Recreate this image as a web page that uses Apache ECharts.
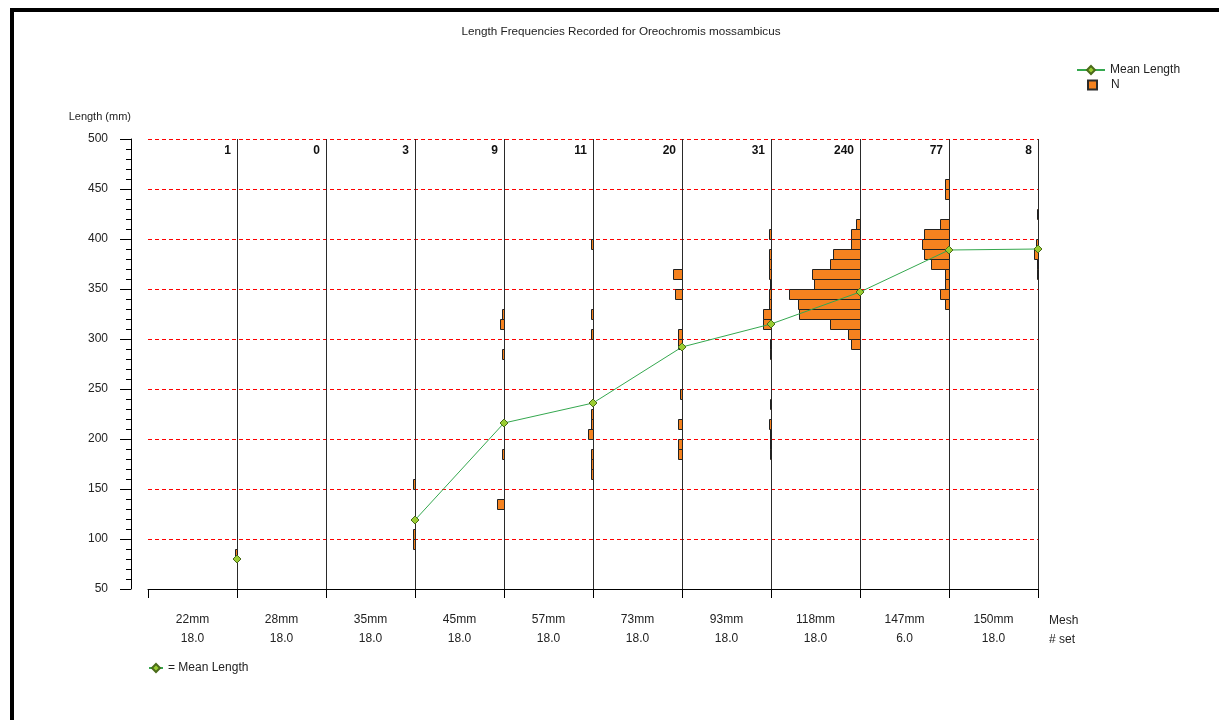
<!DOCTYPE html>
<html>
<head>
<meta charset="utf-8">
<script src="https://cdn.jsdelivr.net/npm/echarts@6/dist/echarts.min.js"></script>
<style>
html,body{margin:0;padding:0;background:#fff;}
#chart{width:1219px;height:720px;}
</style>
</head>
<body>
<div id="chart"></div>
<script>
// ---- data ----
const meshSizes = ['22mm','28mm','35mm','45mm','57mm','73mm','93mm','118mm','147mm','150mm'];
const setCounts = ['18.0','18.0','18.0','18.0','18.0','18.0','18.0','18.0','6.0','18.0'];
const totalN = [1, 0, 3, 9, 11, 20, 31, 240, 77, 8];
const meanLength = [80, '-', 119, 216, 236, 292, 315, 347, 389, 390];
const yTicks = [50, 100, 150, 200, 250, 300, 350, 400, 450, 500];

// length-class frequencies per mesh: [bin start (mm), number of fish]
const freq22mm = [[80, 1]];
const freq28mm = [];
const freq35mm = [[150, 1], [100, 1], [90, 1]];
const freq45mm = [[320, 1], [310, 2], [280, 1], [180, 1], [130, 4]];
const freq57mm = [[390, 1], [320, 1], [300, 1], [220, 1], [210, 1], [200, 3], [180, 1], [170, 1], [160, 1]];
const freq73mm = [[360, 5], [340, 4], [300, 2], [290, 2], [240, 1], [210, 2], [190, 2], [180, 2]];
const freq93mm = [[400, 1], [380, 1], [370, 1], [360, 1], [350, 0.3], [340, 1], [330, 1], [320, 4.3], [310, 4.3],
                  [290, 0.3], [280, 0.3], [230, 0.3], [210, 1], [200, 0.3], [190, 0.3], [180, 0.3]];
const freq118mm = [[410, 2], [400, 5], [390, 5], [380, 15], [370, 17], [360, 27], [350, 26], [340, 40],
                   [330, 35], [320, 34], [310, 17], [300, 7], [290, 5]];
const freq147mm = [[450, 2], [440, 2], [410, 5], [400, 14], [390, 15], [380, 14], [370, 10], [360, 2], [350, 2], [340, 5], [330, 2]];
const freq150mm = [[420, 0.3], [390, 1], [380, 2.4], [370, 0.3], [360, 0.3]];

const freqs = [freq22mm, freq28mm, freq35mm, freq45mm, freq57mm, freq73mm, freq93mm, freq118mm, freq147mm, freq150mm];
const BIN = 10;          // class width, mm
const COL = 50;          // fish per mesh column on the x scale
const X_MAX = COL * meshSizes.length;

// ---- build series data ----
const barData = [];
freqs.forEach((arr, c) => arr.forEach(([b, n]) => barData.push([c, b, n])));
const meanData = meanLength.map((m, i) => [(i + 1) * COL, m]);
const countData = totalN.map((n, i) => [i, n]);
const catLabels = meshSizes.map((m, i) => m + '\n' + setCounts[i]);

const FONT = "'Liberation Sans', Arial, sans-serif";
const chart = echarts.init(document.getElementById('chart'), null, {renderer: 'canvas'});

const vColors = ['rgba(0,0,0,0)'];
for (let i = 0; i < meshSizes.length; i++) vColors.push('#2a2a2a');

chart.setOption({
  animation: false,
  backgroundColor: '#fff',
  textStyle: {fontFamily: FONT},
  graphic: [
    {type: 'rect', shape: {x: 10, y: 8, width: 1209, height: 4}, style: {fill: '#000'}},
    {type: 'rect', shape: {x: 10, y: 8, width: 4, height: 712}, style: {fill: '#000'}},
    {type: 'text', x: 621, y: 32, style: {text: 'Length Frequencies Recorded for Oreochromis mossambicus',
      font: '11.7px ' + FONT, fill: '#222', textAlign: 'center', textVerticalAlign: 'middle'}}
  ],
  legend: [
    {data: [{name: 'Mean Length'}], left: 1076, top: 64, padding: 0, orient: 'vertical', itemWidth: 28, itemHeight: 10,
     selectedMode: false, textStyle: {fontSize: 12, color: '#222', fontFamily: FONT}},
    {data: [{name: 'N', icon: 'rect'}], left: 1087, top: 79, padding: 0, orient: 'vertical', itemWidth: 9, itemHeight: 9,
     selectedMode: false, textStyle: {fontSize: 12, color: '#222', fontFamily: FONT, padding: [0, 0, 0, 9]}},
    {data: [{name: 'Mean Length'}], left: 148, top: 662, padding: 0, itemWidth: 14, itemHeight: 10,
     selectedMode: false, formatter: '= Mean Length', textStyle: {fontSize: 12, color: '#222', fontFamily: FONT}}
  ],
  grid: {left: 148, right: 181, top: 139, bottom: 131, containLabel: false},
  xAxis: [
    {type: 'value', min: 0, max: X_MAX, interval: COL, position: 'bottom',
     axisLine: {show: true, onZero: false, lineStyle: {color: '#000', width: 1}},
     axisTick: {show: true, length: 9, lineStyle: {color: '#000'}},
     axisLabel: {show: false},
     splitLine: {show: true, lineStyle: {color: vColors, width: 1}}},
    {type: 'category', data: catLabels, position: 'bottom', gridIndex: 0,
     axisLine: {show: false, onZero: false}, axisTick: {show: false}, splitLine: {show: false},
     axisLabel: {margin: 21, lineHeight: 19, fontSize: 12, color: '#222', fontFamily: FONT},
     name: 'Mesh\n# set', nameLocation: 'end', nameGap: 11,
     nameTextStyle: {align: 'left', verticalAlign: 'top', lineHeight: 19, fontSize: 12, color: '#222',
                     fontFamily: FONT, padding: [22, 0, 0, 0]}}
  ],
  yAxis: {
    type: 'value', min: 50, max: 500, interval: 50, offset: 17, position: 'left',
    name: 'Length (mm)', nameLocation: 'end', nameGap: 17,
    nameTextStyle: {align: 'right', fontSize: 11, color: '#222', fontFamily: FONT},
    axisLine: {show: true, onZero: false, lineStyle: {color: '#000', width: 1}},
    axisTick: {show: true, length: 11, lineStyle: {color: '#000'}},
    minorTick: {show: true, splitNumber: 5, length: 5, lineStyle: {color: '#000'}},
    axisLabel: {margin: 23, fontSize: 12, color: '#222', fontFamily: FONT,
                formatter: v => (yTicks.indexOf(v) >= 0 ? String(v) : '')},
    splitLine: {show: true, lineStyle: {color: '#ff0000', type: [4, 3], width: 1}}
  },
  series: [
    {
      name: 'N', type: 'custom', xAxisIndex: 0, yAxisIndex: 0,
      itemStyle: {color: '#f5821f', borderColor: '#2b2b2b', borderWidth: 1},
      encode: {x: 2, y: 1},
      data: barData,
      renderItem: function (params, api) {
        const c = api.value(0), b = api.value(1), n = api.value(2);
        const right = (c + 1) * COL;
        const p1 = api.coord([right - n, b + BIN]);
        const p2 = api.coord([right, b]);
        return {
          type: 'rect',
          shape: {x: Math.round(p1[0]) + 0.5, y: Math.round(p1[1]) + 0.5,
                  width: Math.max(0, Math.round(p2[0]) - Math.round(p1[0])),
                  height: Math.round(p2[1]) - Math.round(p1[1])},
          style: {fill: '#f5821f', stroke: '#222', lineWidth: 1}
        };
      },
      z: 2
    },
    {
      name: 'counts', type: 'custom', xAxisIndex: 0, yAxisIndex: 0, silent: true,
      encode: {x: 0, y: 1},
      data: countData,
      renderItem: function (params, api) {
        const c = api.value(0), n = api.value(1);
        const p = api.coord([(c + 1) * COL, 500]);
        return {
          type: 'text', x: p[0] - 6, y: p[1] + 12,
          style: {text: String(n), font: 'bold 12px ' + FONT, fill: '#111',
                  textAlign: 'right', textVerticalAlign: 'middle'}
        };
      },
      z: 3
    },
    {
      name: 'Mean Length', type: 'line', xAxisIndex: 0, yAxisIndex: 0,
      data: meanData, connectNulls: false,
      symbol: 'diamond', symbolSize: 8, showSymbol: true,
      lineStyle: {color: '#35a84f', width: 1},
      itemStyle: {color: '#9acd32', borderColor: '#4a6b1a', borderWidth: 1},
      z: 5
    }
  ]
});
</script>
</body>
</html>
